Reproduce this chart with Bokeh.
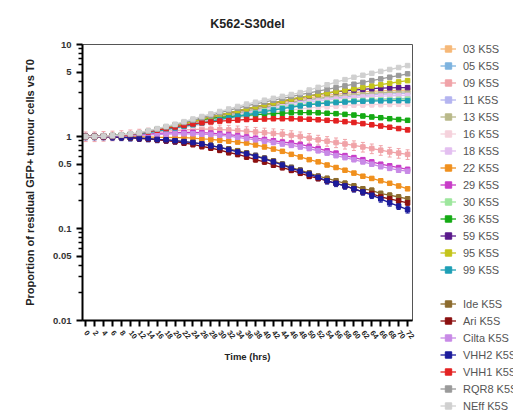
from bokeh.plotting import figure
from bokeh.models import (ColumnDataSource, Legend, LegendItem, FixedTicker,
                          Whisker, TeeHead)
from bokeh.embed import file_html
from bokeh.resources import INLINE

hours = [0, 2, 4, 6, 8, 10, 12, 14, 16, 18, 20, 22, 24, 26, 28, 30, 32, 34, 36,
         38, 40, 42, 44, 46, 48, 50, 52, 54, 56, 58, 60, 62, 64, 66, 68, 70, 72]
hour_labels = ["0", "2", "4", "6", "8", "10", "12", "14", "16", "18", "20", "22", "24",
               "26", "28", "30", "32", "34", "36", "38", "40", "42", "44", "46", "48",
               "50", "52", "54", "56", "58", "60", "62", "64", "66", "68", "70", "72"]

y_ticks = [0.01, 0.05, 0.1, 0.5, 1, 5, 10]
y_tick_labels = ["0.01", "0.05", "0.1", "0.5", "1", "5", "10"]

s03 = [1.00, 1.00, 1.01, 1.02, 1.03, 1.05, 1.07, 1.12, 1.17, 1.23, 1.29, 1.35, 1.42,
       1.50, 1.59, 1.68, 1.77, 1.86, 1.95, 2.05, 2.15, 2.25, 2.35, 2.45, 2.55,
       2.64, 2.72, 2.80, 2.87, 2.94, 3.00, 3.05, 3.09, 3.13, 3.16, 3.18, 3.20]
s05 = [1.00, 1.00, 1.01, 1.02, 1.03, 1.04, 1.06, 1.10, 1.14, 1.19, 1.24, 1.29, 1.35,
       1.41, 1.48, 1.54, 1.61, 1.68, 1.75, 1.83, 1.90, 1.98, 2.05, 2.13, 2.20,
       2.26, 2.31, 2.35, 2.39, 2.43, 2.46, 2.49, 2.52, 2.54, 2.56, 2.58, 2.60]
s09 = [1.00, 1.00, 1.01, 1.02, 1.03, 1.05, 1.07, 1.10, 1.12, 1.14, 1.16, 1.18, 1.19,
       1.20, 1.20, 1.19, 1.18, 1.16, 1.14, 1.12, 1.10, 1.08, 1.06, 1.03, 1.00,
       0.96, 0.92, 0.89, 0.86, 0.83, 0.80, 0.77, 0.74, 0.71, 0.68, 0.66, 0.64]
s11 = [1.00, 1.00, 1.01, 1.02, 1.03, 1.04, 1.06, 1.11, 1.16, 1.21, 1.26, 1.32, 1.38,
       1.45, 1.53, 1.61, 1.69, 1.77, 1.85, 1.94, 2.03, 2.12, 2.21, 2.30, 2.40,
       2.47, 2.53, 2.59, 2.65, 2.70, 2.75, 2.80, 2.84, 2.88, 2.91, 2.93, 2.95]
s13 = [1.00, 1.00, 1.01, 1.02, 1.03, 1.04, 1.06, 1.11, 1.16, 1.22, 1.28, 1.34, 1.40,
       1.48, 1.56, 1.64, 1.73, 1.81, 1.90, 1.99, 2.08, 2.17, 2.26, 2.35, 2.45,
       2.53, 2.60, 2.67, 2.74, 2.80, 2.85, 2.90, 2.94, 2.98, 3.01, 3.03, 3.05]
s16 = [1.00, 1.00, 1.01, 1.02, 1.03, 1.04, 1.05, 1.09, 1.13, 1.17, 1.21, 1.25, 1.30,
       1.35, 1.41, 1.47, 1.53, 1.59, 1.65, 1.71, 1.77, 1.83, 1.89, 1.94, 2.00,
       2.05, 2.09, 2.12, 2.15, 2.18, 2.20, 2.21, 2.22, 2.23, 2.24, 2.25, 2.25]
s18 = [1.00, 1.00, 1.01, 1.02, 1.03, 1.04, 1.06, 1.10, 1.15, 1.20, 1.25, 1.30, 1.36,
       1.43, 1.50, 1.58, 1.65, 1.72, 1.80, 1.88, 1.96, 2.04, 2.13, 2.21, 2.30,
       2.37, 2.43, 2.49, 2.55, 2.60, 2.65, 2.69, 2.72, 2.75, 2.77, 2.79, 2.80]
s22 = [1.00, 1.00, 1.00, 1.00, 1.00, 1.00, 0.99, 0.99, 0.98, 0.98, 0.97, 0.97, 0.96,
       0.94, 0.93, 0.91, 0.89, 0.87, 0.85, 0.81, 0.77, 0.73, 0.69, 0.64, 0.60,
       0.56, 0.53, 0.49, 0.46, 0.43, 0.40, 0.37, 0.35, 0.33, 0.31, 0.29, 0.27]
s29 = [1.00, 1.00, 1.00, 1.01, 1.02, 1.03, 1.04, 1.06, 1.08, 1.09, 1.10, 1.11, 1.11,
       1.10, 1.09, 1.07, 1.05, 1.02, 0.99, 0.96, 0.93, 0.90, 0.87, 0.85, 0.82,
       0.78, 0.74, 0.70, 0.66, 0.62, 0.59, 0.56, 0.53, 0.50, 0.48, 0.46, 0.44]
s30 = [1.00, 1.00, 1.01, 1.02, 1.03, 1.04, 1.06, 1.10, 1.15, 1.20, 1.25, 1.30, 1.36,
       1.42, 1.48, 1.55, 1.62, 1.68, 1.75, 1.82, 1.90, 1.97, 2.05, 2.12, 2.20,
       2.25, 2.30, 2.34, 2.38, 2.42, 2.45, 2.47, 2.49, 2.51, 2.52, 2.54, 2.55]
s36 = [1.00, 1.00, 1.01, 1.02, 1.04, 1.06, 1.09, 1.14, 1.20, 1.26, 1.33, 1.40, 1.48,
       1.53, 1.57, 1.61, 1.64, 1.67, 1.70, 1.73, 1.75, 1.77, 1.79, 1.81, 1.82,
       1.82, 1.81, 1.79, 1.77, 1.74, 1.71, 1.67, 1.63, 1.60, 1.56, 1.53, 1.50]
s59 = [1.00, 1.00, 1.01, 1.02, 1.03, 1.05, 1.07, 1.12, 1.18, 1.24, 1.31, 1.38, 1.45,
       1.54, 1.63, 1.72, 1.81, 1.90, 2.00, 2.10, 2.21, 2.32, 2.43, 2.54, 2.65,
       2.76, 2.87, 2.97, 3.06, 3.14, 3.20, 3.26, 3.31, 3.35, 3.38, 3.40, 3.40]
s95 = [1.00, 1.00, 1.01, 1.02, 1.03, 1.05, 1.07, 1.12, 1.18, 1.24, 1.31, 1.38, 1.45,
       1.54, 1.63, 1.72, 1.81, 1.90, 2.00, 2.10, 2.21, 2.32, 2.43, 2.55, 2.67,
       2.77, 2.87, 2.97, 3.08, 3.19, 3.30, 3.42, 3.54, 3.66, 3.79, 3.92, 4.05]
s99 = [1.00, 1.00, 1.01, 1.02, 1.03, 1.04, 1.06, 1.10, 1.14, 1.19, 1.24, 1.29, 1.34,
       1.40, 1.46, 1.53, 1.59, 1.66, 1.72, 1.79, 1.86, 1.94, 2.01, 2.08, 2.15,
       2.21, 2.26, 2.30, 2.34, 2.37, 2.40, 2.42, 2.43, 2.44, 2.45, 2.45, 2.45]
ide = [1.00, 1.00, 1.00, 0.99, 0.98, 0.97, 0.96, 0.95, 0.93, 0.92, 0.90, 0.88, 0.86,
       0.83, 0.80, 0.76, 0.73, 0.70, 0.66, 0.62, 0.58, 0.54, 0.50, 0.46, 0.43,
       0.40, 0.37, 0.35, 0.33, 0.31, 0.29, 0.27, 0.26, 0.24, 0.23, 0.22, 0.21]
ari = [1.00, 1.00, 0.99, 0.99, 0.98, 0.97, 0.95, 0.94, 0.92, 0.90, 0.88, 0.85, 0.82,
       0.78, 0.75, 0.71, 0.67, 0.64, 0.60, 0.56, 0.53, 0.49, 0.46, 0.43, 0.40,
       0.37, 0.35, 0.33, 0.31, 0.29, 0.27, 0.25, 0.24, 0.22, 0.21, 0.20, 0.19]
cilta = [1.00, 1.00, 1.00, 1.00, 1.01, 1.02, 1.03, 1.04, 1.05, 1.06, 1.07, 1.07, 1.07,
         1.06, 1.05, 1.03, 1.01, 0.98, 0.95, 0.92, 0.89, 0.86, 0.83, 0.80, 0.77,
         0.74, 0.70, 0.66, 0.62, 0.59, 0.56, 0.53, 0.50, 0.47, 0.45, 0.43, 0.42]
vhh2 = [1.00, 1.00, 1.00, 0.99, 0.98, 0.97, 0.96, 0.95, 0.93, 0.92, 0.90, 0.88, 0.86,
        0.83, 0.79, 0.76, 0.72, 0.68, 0.65, 0.61, 0.57, 0.53, 0.49, 0.45, 0.42,
        0.39, 0.36, 0.33, 0.31, 0.29, 0.27, 0.25, 0.23, 0.21, 0.19, 0.175, 0.16]
vhh1 = [1.00, 1.00, 1.01, 1.02, 1.03, 1.05, 1.08, 1.12, 1.17, 1.22, 1.27, 1.32, 1.37,
        1.41, 1.44, 1.47, 1.49, 1.51, 1.53, 1.54, 1.55, 1.56, 1.56, 1.56, 1.55,
        1.54, 1.52, 1.50, 1.48, 1.45, 1.42, 1.38, 1.34, 1.30, 1.26, 1.22, 1.18]
rqr8 = [1.00, 1.00, 1.01, 1.02, 1.04, 1.06, 1.08, 1.14, 1.20, 1.27, 1.34, 1.42, 1.50,
        1.60, 1.70, 1.81, 1.92, 2.03, 2.15, 2.26, 2.37, 2.48, 2.60, 2.72, 2.85,
        2.98, 3.12, 3.26, 3.40, 3.55, 3.70, 3.87, 4.05, 4.23, 4.41, 4.60, 4.80]
neff = [1.00, 1.00, 1.01, 1.02, 1.04, 1.07, 1.10, 1.16, 1.22, 1.29, 1.36, 1.45, 1.55,
        1.65, 1.76, 1.87, 1.99, 2.12, 2.25, 2.36, 2.48, 2.60, 2.73, 2.86, 3.00,
        3.20, 3.42, 3.65, 3.90, 4.15, 4.40, 4.63, 4.86, 5.10, 5.35, 5.62, 5.90]

series_names = ["03 K5S", "05 K5S", "09 K5S", "11 K5S", "13 K5S", "16 K5S", "18 K5S",
                "22 K5S", "29 K5S", "30 K5S", "36 K5S", "59 K5S", "95 K5S", "99 K5S",
                "Ide K5S", "Ari K5S", "Cilta K5S", "VHH2 K5S", "VHH1 K5S", "RQR8 K5S",
                "NEff K5S"]
series_values = [s03, s05, s09, s11, s13, s16, s18, s22, s29, s30, s36, s59, s95, s99,
                 ide, ari, cilta, vhh2, vhh1, rqr8, neff]
# relative spread of the error bars per series
series_err = [0.05, 0.05, 0.12, 0.06, 0.05, 0.06, 0.06, 0.04, 0.04, 0.05, 0.04, 0.03,
              0.04, 0.04, 0.06, 0.06, 0.05, 0.08, 0.04, 0.03, 0.03]
series_colors = ["#f6b878", "#7db3df", "#f0a3a8", "#b4b4f0", "#b9b98a", "#f5d2dc",
                 "#e3bff0", "#f0901e", "#c83cc8", "#9de69d", "#14aa14", "#5a1a8c",
                 "#c4c41c", "#1e9fb5", "#8c6b2d", "#8b1010", "#c88ae6", "#1c1c9c",
                 "#e32222", "#9a9a9a", "#d0d0d0"]

FONT = "Liberation Sans"

p = figure(frame_width=330, frame_height=276, y_axis_type="log",
           x_range=(-0.7, 73.1), y_range=(0.01, 10),
           output_backend="svg", toolbar_location=None,
           min_border_left=82, min_border_right=101, min_border_top=44,
           min_border_bottom=91)

p.title.text = "K562-S30del"
p.title.align = "center"
p.title.text_font = FONT
p.title.text_font_size = "12.5px"
p.title.text_font_style = "bold"
p.title.text_color = "#222222"
p.title.standoff = 28

p.xgrid.visible = False
p.ygrid.visible = False
p.outline_line_color = "#555555"
p.outline_line_width = 1

items = []
for i, (name, vals, ef, col) in enumerate(zip(series_names, series_values,
                                               series_err, series_colors)):
    src = ColumnDataSource(dict(x=hours, y=vals,
                                lo=[v * (1 - ef) for v in vals],
                                hi=[v * (1 + ef) for v in vals]))
    w = Whisker(source=src, base="x", upper="hi", lower="lo",
                line_color=col, line_width=1,
                upper_head=TeeHead(size=4, line_color=col, line_width=1),
                lower_head=TeeHead(size=4, line_color=col, line_width=1))
    p.add_layout(w)
    ln = p.line("x", "y", source=src, line_color=col, line_width=1.3)
    sc = p.scatter("x", "y", source=src, size=4.5, marker="square",
                   fill_color=col, line_color=col)
    items.append(LegendItem(label=name, renderers=[ln, sc]))
    if i == 13:
        # blank row separating the two legend groups
        gap = p.line("x", "y", source=src, line_alpha=0)
        items.append(LegendItem(label=" ", renderers=[gap]))

legend = Legend(items=items, location=(28, -94), ncols=1, padding=0, margin=0,
                spacing=0, glyph_width=16, glyph_height=17, label_height=17,
                label_standoff=7, label_text_font=FONT, label_text_font_size="11px",
                label_text_color="#555555", background_fill_alpha=0,
                border_line_alpha=0)
p.add_layout(legend, "right")

# axes
xa = p.xaxis[0]
xa.ticker = FixedTicker(ticks=hours)
xa.major_label_overrides = {h: lab for h, lab in zip(hours, hour_labels)}
xa.major_label_orientation = -0.9
xa.major_label_text_font = FONT
xa.major_label_text_font_size = "7.5px"
xa.major_label_text_font_style = "bold"
xa.major_label_text_color = "#222222"
xa.axis_label = "Time (hrs)"
xa.axis_label_text_font = FONT
xa.axis_label_text_font_size = "9.5px"
xa.axis_label_text_font_style = "bold"
xa.axis_label_text_color = "#222222"
xa.axis_label_standoff = 7
xa.axis_line_width = 2
xa.major_tick_line_width = 2
xa.major_tick_out = 6
xa.major_tick_in = 0
xa.minor_tick_line_color = None

ya = p.yaxis[0]
ya.ticker = FixedTicker(ticks=y_ticks,
                        minor_ticks=[0.02, 0.03, 0.04, 0.06, 0.07, 0.08, 0.09,
                                     0.2, 0.3, 0.4, 0.6, 0.7, 0.8, 0.9,
                                     2, 3, 4, 6, 7, 8, 9])
ya.major_label_overrides = {t: lab for t, lab in zip(y_ticks, y_tick_labels)}
ya.major_label_text_font = FONT
ya.major_label_text_font_size = "9.5px"
ya.major_label_text_font_style = "bold"
ya.major_label_text_color = "#333333"
ya.axis_label = "Proportion of residual GFP+ tumour cells vs T0"
ya.axis_label_text_font = FONT
ya.axis_label_text_font_size = "11px"
ya.axis_label_text_font_style = "bold"
ya.axis_label_text_color = "#222222"
ya.axis_label_standoff = 14
ya.axis_line_width = 2
ya.major_tick_line_width = 2
ya.major_tick_out = 6
ya.major_tick_in = 0
ya.minor_tick_line_width = 1.5
ya.minor_tick_out = 4
ya.minor_tick_in = 0

open("out.html", "w").write(file_html(p, INLINE))
